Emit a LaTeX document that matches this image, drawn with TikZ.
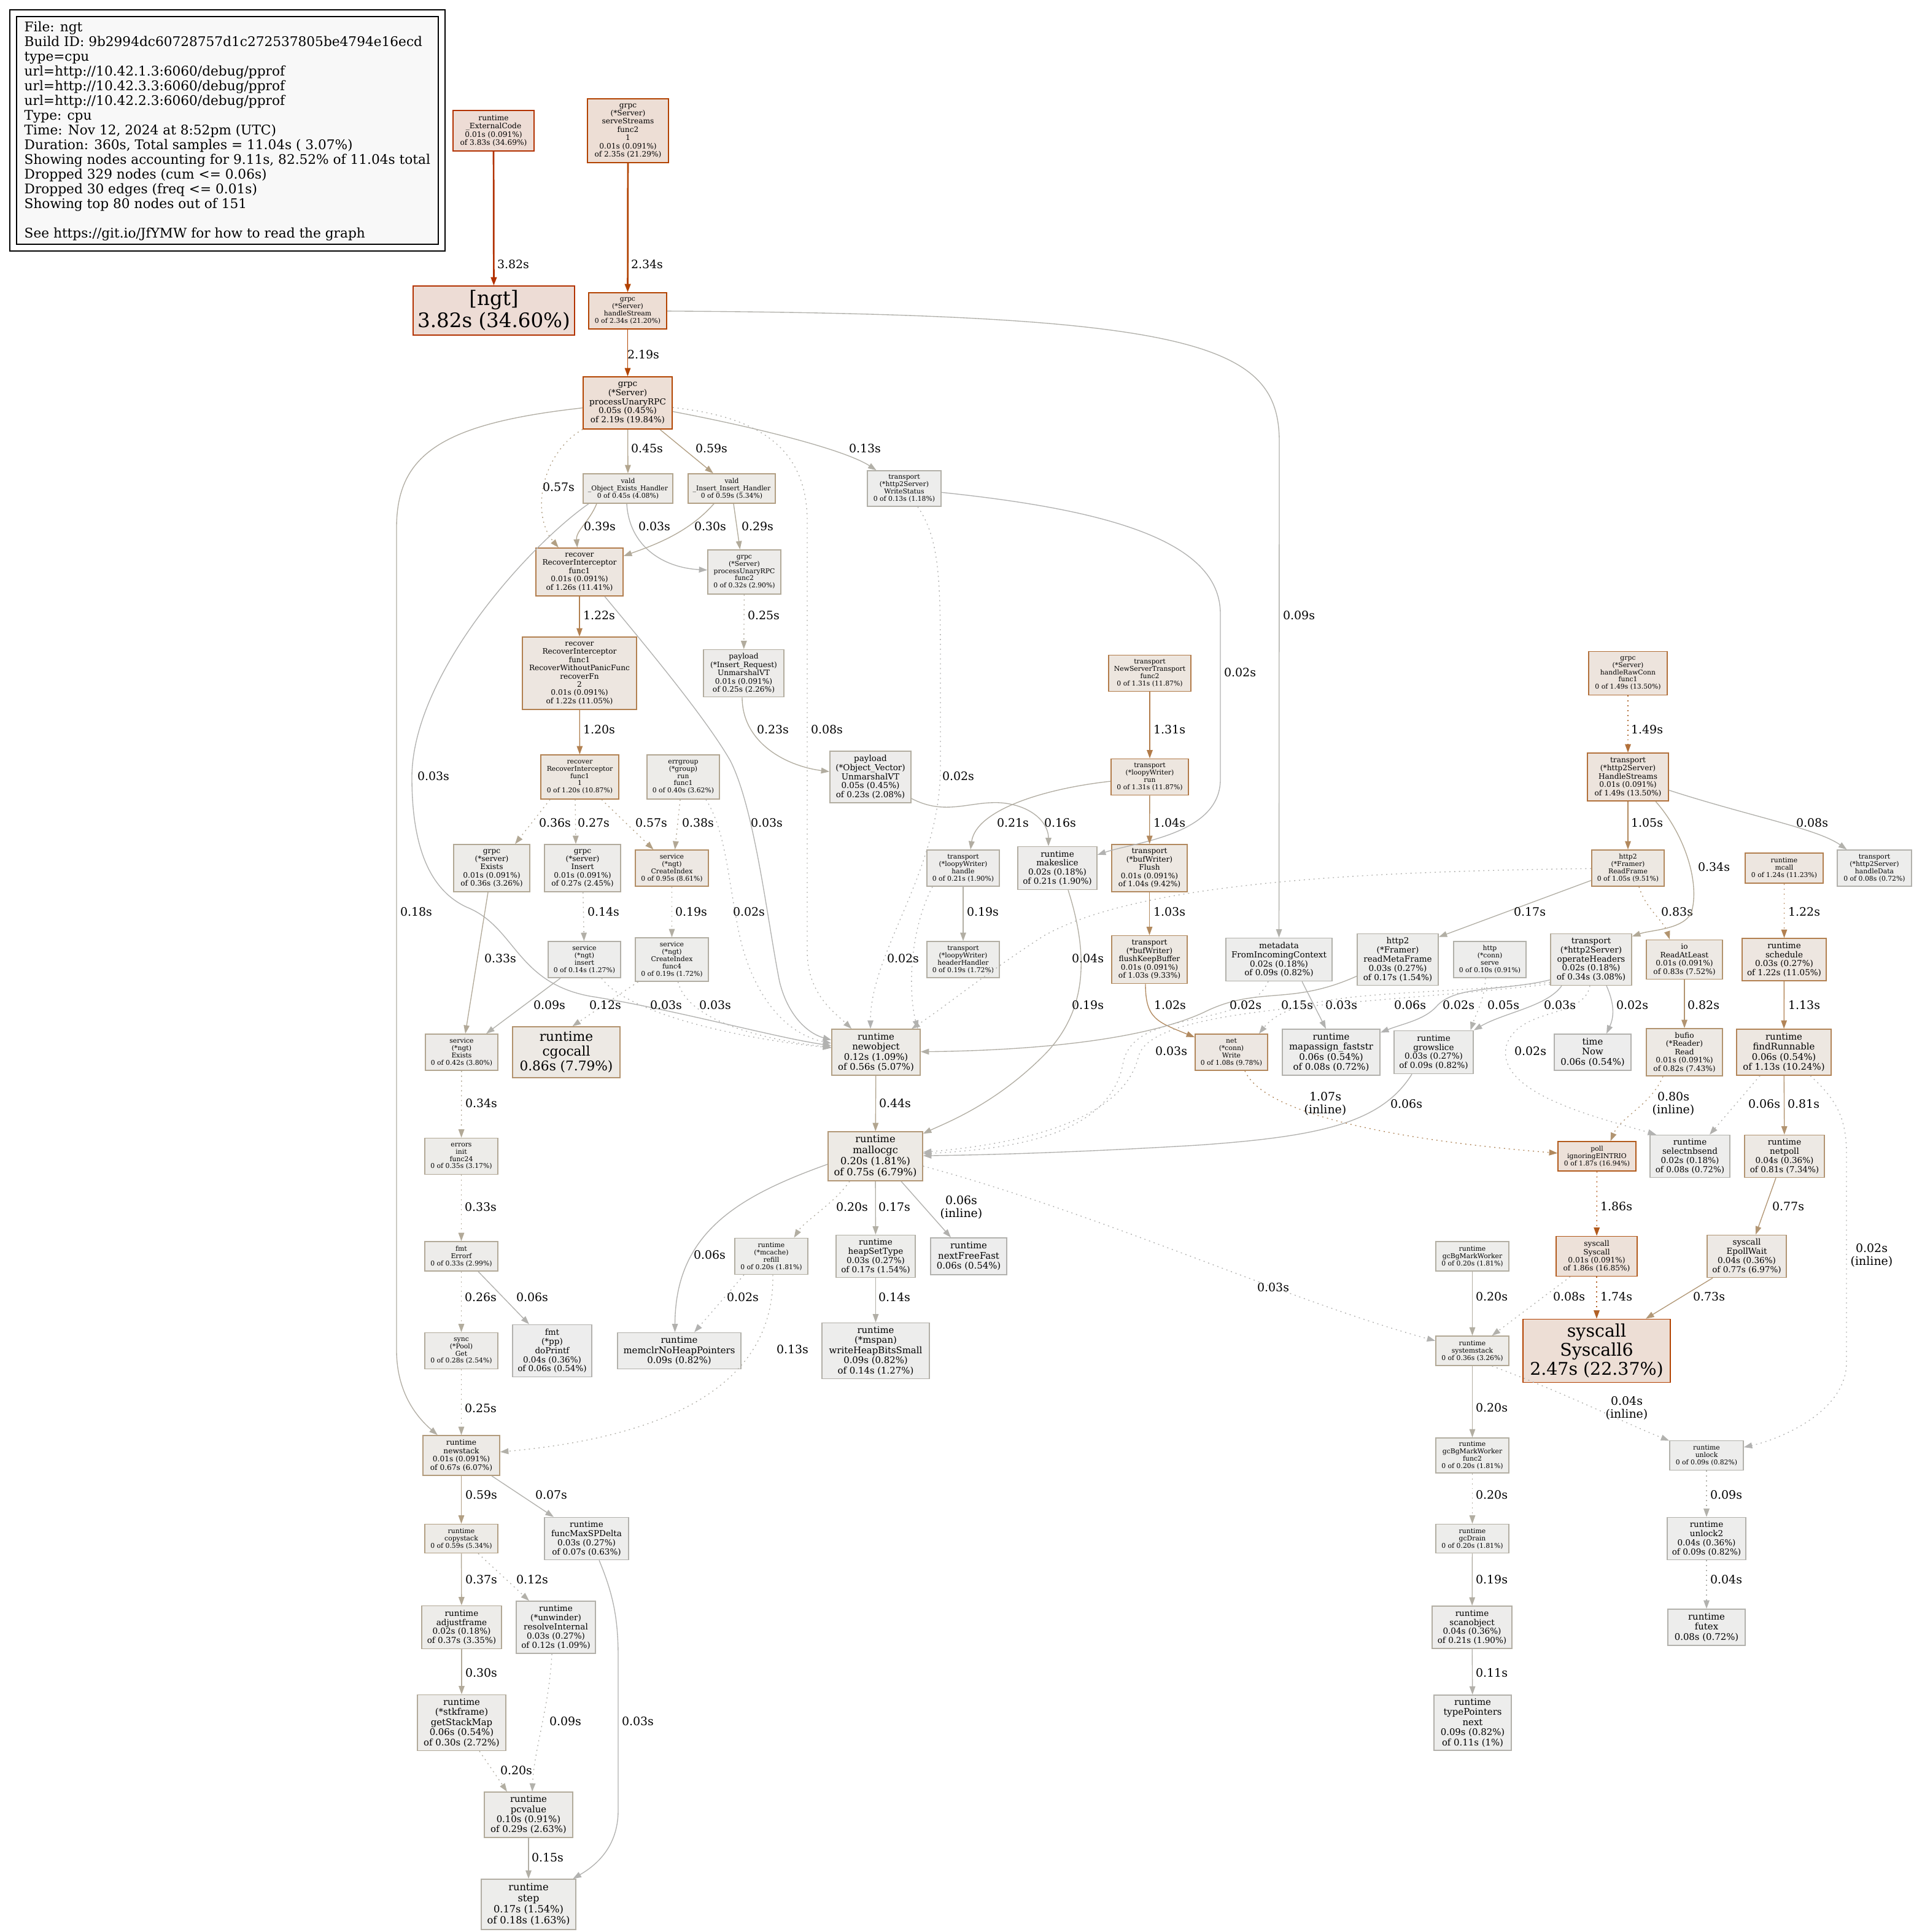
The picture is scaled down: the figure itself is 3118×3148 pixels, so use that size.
\documentclass[tikz,border=0pt]{standalone}
\usepackage{fontspec}
\setmainfont{DejaVu Serif}
\usetikzlibrary{arrows.meta}
\definecolor{legfill}{HTML}{F8F8F8}
\newcounter{gvl}
\newcommand\gvcol[3]{%
  \pgfmathsetmacro\gvx{#2}%
  \pgfmathsetmacro\gvS{ifthenelse(#3==1,0.1,1.0)}%
  \pgfmathsetmacro\gvV{ifthenelse(#3==1,0.93,0.7)}%
  \pgfmathsetmacro\gvSat{ifthenelse(\gvx<0.2,\gvS*\gvx/0.2,\gvS)}%
  \pgfmathsetmacro\gvSc{pow(\gvx,0.3)}%
  \pgfmathsetmacro\gvG{\gvV*(1-\gvSat*\gvSc)}%
  \pgfmathsetmacro\gvB{\gvV*(1-\gvSat)}%
  \definecolor{#1}{rgb}{\gvV,\gvG,\gvB}}
\newcommand\gvnode[8]{%
  \gvcol{gnf}{#7/11.04}{1}\gvcol{gnd}{#7/11.04}{0}%
  \pgfmathsetmacro\gnfs{#6*0.385}\pgfmathsetmacro\gnbs{#6*0.385*1.1}%
  \node[gnode,fill=gnf,draw=gnd,minimum width=#4*0.01cm,minimum height=#5*0.01cm,
        font=\fontsize{\gnfs}{\gnbs}\selectfont] (#1) at (#2,#3) {#8};}
\newcommand\gvedge[3]{%
  \gvcol{gec}{#1/11.04}{0}%
  \pgfmathsetmacro\gew{ifthenelse(#1>=2.208,0.77,0.385)}%
  \draw[gedge,draw=gec,line width=\gew pt,#2] #3;}
\newcommand\gvlab[3]{\stepcounter{gvl}\node[glab] (lab\arabic{gvl}) at (#1,#2) {#3};}
\begin{document}
\begin{tikzpicture}[x=0.01cm,y=-0.01cm,
  gnode/.style={rectangle,inner sep=0pt,align=center,line width=0.45pt},
  gedge/.style={-{Triangle[length=3.85pt,width=2.7pt]}},
  gdot/.style={dash pattern=on 0.55pt off 1.7pt},
  glab/.style={inner sep=0pt,align=center,font=\fontsize{5.39}{5.95}\selectfont}]
\useasboundingbox (0,0) rectangle (3118,3148);
\fill[white] (0,0) rectangle (3118,3148);
% legend
\draw[black,line width=0.6pt] (16,16) rectangle (725,409);
\draw[black,line width=0.45pt,fill=legfill] (27,27) rectangle (714,398);
\node[anchor=north west,align=left,inner sep=0pt,font=\fontsize{6.16}{6.83}\selectfont] (legend) at (39,34)
{File: ngt\\Build ID: 9b2994dc60728757d1c272537805be4794e16ecd\\type=cpu\\url=http://10.42.1.3:6060/debug/pprof\\url=http://10.42.3.3:6060/debug/pprof\\url=http://10.42.2.3:6060/debug/pprof\\Type: cpu\\Time: Nov 12, 2024 at 8:52pm (UTC)\\Duration: 360s, Total samples = 11.04s ( 3.07\%)\\Showing nodes accounting for 9.11s, 82.52\% of 11.04s total\\Dropped 329 nodes (cum <= 0.06s)\\Dropped 30 edges (freq <= 0.01s)\\Showing top 80 nodes out of 151\\\mbox{}\\See https://git.io/JfYMW for how to read the graph};
% nodes
\gvnode{ext}{804}{213}{132}{66}{9}{3.83}{runtime\\\_ExternalCode\\0.01s (0.091\%)\\of 3.83s (34.69\%)}
\gvnode{serve}{1023}{213}{132}{104}{9}{2.35}{grpc\\(*Server)\\serveStreams\\func2\\1\\0.01s (0.091\%)\\of 2.35s (21.29\%)}
\gvnode{ngt}{804.5}{506}{263}{80}{24}{3.82}{[ngt]\\3.82s (34.60\%)}
\gvnode{hs}{1022.5}{506.5}{127}{59}{8}{2.34}{grpc\\(*Server)\\handleStream\\0 of 2.34s (21.20\%)}
\gvnode{pur}{1022.5}{656.5}{145}{85}{10}{2.19}{grpc\\(*Server)\\processUnaryRPC\\0.05s (0.45\%)\\of 2.19s (19.84\%)}
\gvnode{oeh}{1023}{796}{146}{48}{8}{0.45}{vald\\\_Object\_Exists\_Handler\\0 of 0.45s (4.08\%)}
\gvnode{iih}{1192}{796}{142}{48}{8}{0.59}{vald\\\_Insert\_Insert\_Handler\\0 of 0.59s (5.34\%)}
\gvnode{ws}{1473}{796}{120}{58}{8}{0.13}{transport\\(*http2Server)\\WriteStatus\\0 of 0.13s (1.18\%)}
\gvnode{rf1}{944}{932}{142}{78}{9}{1.26}{recover\\RecoverInterceptor\\func1\\0.01s (0.091\%)\\of 1.26s (11.41\%)}
\gvnode{pf2}{1212.5}{932}{119}{72}{8}{0.32}{grpc\\(*Server)\\processUnaryRPC\\func2\\0 of 0.32s (2.90\%)}
\gvnode{rfn}{944}{1097}{186}{118}{9}{1.22}{recover\\RecoverInterceptor\\func1\\RecoverWithoutPanicFunc\\recoverFn\\2\\0.01s (0.091\%)\\of 1.22s (11.05\%)}
\gvnode{pins}{1211.5}{1097}{131}{77}{9}{0.25}{payload\\(*Insert\_Request)\\UnmarshalVT\\0.01s (0.091\%)\\of 0.25s (2.26\%)}
\gvnode{nst}{1873}{1097}{134}{59}{8}{1.31}{transport\\NewServerTransport\\func2\\0 of 1.31s (11.87\%)}
\gvnode{hrc}{2652}{1097}{128}{71}{8}{1.49}{grpc\\(*Server)\\handleRawConn\\func1\\0 of 1.49s (13.50\%)}
\gvnode{pvec}{1418}{1266}{132}{84}{10}{0.23}{payload\\(*Object\_Vector)\\UnmarshalVT\\0.05s (0.45\%)\\of 0.23s (2.08\%)}
\gvnode{rf11}{944.5}{1266}{127}{72}{8}{1.20}{recover\\RecoverInterceptor\\func1\\1\\0 of 1.20s (10.87\%)}
\gvnode{errg}{1113}{1266}{118}{72}{8}{0.40}{errgroup\\(*group)\\run\\func1\\0 of 0.40s (3.62\%)}
\gvnode{lrun}{1873}{1266}{126}{59}{8}{1.31}{transport\\(*loopyWriter)\\run\\0 of 1.31s (11.87\%)}
\gvnode{hst}{2652}{1266}{132}{78}{9}{1.49}{transport\\(*http2Server)\\HandleStreams\\0.01s (0.091\%)\\of 1.49s (13.50\%)}
\gvnode{gex}{801}{1414.5}{124}{77}{9}{0.36}{grpc\\(*server)\\Exists\\0.01s (0.091\%)\\of 0.36s (3.26\%)}
\gvnode{gin}{949}{1414.5}{124}{77}{9}{0.27}{grpc\\(*server)\\Insert\\0.01s (0.091\%)\\of 0.27s (2.45\%)}
\gvnode{sci}{1094.5}{1414.5}{119}{59}{8}{0.95}{service\\(*ngt)\\CreateIndex\\0 of 0.95s (8.61\%)}
\gvnode{lhan}{1569}{1414.5}{118}{59}{8}{0.21}{transport\\(*loopyWriter)\\handle\\0 of 0.21s (1.90\%)}
\gvnode{mks}{1722.5}{1414.5}{129}{70}{10}{0.21}{runtime\\makeslice\\0.02s (0.18\%)\\of 0.21s (1.90\%)}
\gvnode{fl}{1872.5}{1414.5}{123}{77}{9}{1.04}{transport\\(*bufWriter)\\Flush\\0.01s (0.091\%)\\of 1.04s (9.42\%)}
\gvnode{rfr}{2652}{1414.5}{118}{59}{8}{1.05}{http2\\(*Framer)\\ReadFrame\\0 of 1.05s (9.51\%)}
\gvnode{mcall}{2906.5}{1414.5}{127}{49}{8}{1.24}{runtime\\mcall\\0 of 1.24s (11.23\%)}
\gvnode{hdata}{3053.5}{1414.5}{121}{59}{8}{0.08}{transport\\(*http2Server)\\handleData\\0 of 0.08s (0.72\%)}
\gvnode{sin}{952}{1563.5}{118}{59}{8}{0.14}{service\\(*ngt)\\insert\\0 of 0.14s (1.27\%)}
\gvnode{scf4}{1094.5}{1563.5}{119}{71}{8}{0.19}{service\\(*ngt)\\CreateIndex\\func4\\0 of 0.19s (1.72\%)}
\gvnode{hh}{1569}{1563.5}{118}{59}{8}{0.19}{transport\\(*loopyWriter)\\headerHandler\\0 of 0.19s (1.72\%)}
\gvnode{fkb}{1872.5}{1563.5}{123}{78}{9}{1.03}{transport\\(*bufWriter)\\flushKeepBuffer\\0.01s (0.091\%)\\of 1.03s (9.33\%)}
\gvnode{md}{2083.5}{1563.5}{173}{70}{10}{0.09}{metadata\\FromIncomingContext\\0.02s (0.18\%)\\of 0.09s (0.82\%)}
\gvnode{rmf}{2277}{1563.5}{132}{84}{10}{0.17}{http2\\(*Framer)\\readMetaFrame\\0.03s (0.27\%)\\of 0.17s (1.54\%)}
\gvnode{hcs}{2427}{1563.5}{118}{59}{8}{0.10}{http\\(*conn)\\serve\\0 of 0.10s (0.91\%)}
\gvnode{oph}{2592}{1563.5}{132}{84}{10}{0.34}{transport\\(*http2Server)\\operateHeaders\\0.02s (0.18\%)\\of 0.34s (3.08\%)}
\gvnode{ral}{2744}{1563.5}{124}{64}{9}{0.83}{io\\ReadAtLeast\\0.01s (0.091\%)\\of 0.83s (7.52\%)}
\gvnode{sch}{2906.5}{1563.5}{137}{69}{10}{1.22}{runtime\\schedule\\0.03s (0.27\%)\\of 1.22s (11.05\%)}
\gvnode{sex}{752}{1714.5}{118}{59}{8}{0.42}{service\\(*ngt)\\Exists\\0 of 0.42s (3.80\%)}
\gvnode{cgo}{922.5}{1714.5}{175}{83}{16}{0.86}{runtime\\cgocall\\0.86s (7.79\%)}
\gvnode{nobj}{1427}{1714.5}{144}{75}{11}{0.56}{runtime\\newobject\\0.12s (1.09\%)\\of 0.56s (5.07\%)}
\gvnode{nw}{2006}{1714.5}{118}{59}{8}{1.08}{net\\(*conn)\\Write\\0 of 1.08s (9.78\%)}
\gvnode{mpa}{2168.5}{1714.5}{159}{75}{11}{0.08}{runtime\\mapassign\_faststr\\0.06s (0.54\%)\\of 0.08s (0.72\%)}
\gvnode{gs}{2335.5}{1714.5}{129}{70}{10}{0.09}{runtime\\growslice\\0.03s (0.27\%)\\of 0.09s (0.82\%)}
\gvnode{tnow}{2594.5}{1714.5}{125}{59}{11}{0.06}{time\\Now\\0.06s (0.54\%)}
\gvnode{brd}{2744}{1714.5}{124}{77}{9}{0.82}{bufio\\(*Reader)\\Read\\0.01s (0.091\%)\\of 0.82s (7.43\%)}
\gvnode{frn}{2906}{1714.5}{154}{75}{11}{1.13}{runtime\\findRunnable\\0.06s (0.54\%)\\of 1.13s (10.24\%)}
\gvnode{ein}{751.5}{1884}{119}{59}{8}{0.35}{errors\\init\\func24\\0 of 0.35s (3.17\%)}
\gvnode{mgc}{1426}{1884}{154}{80}{12}{0.75}{runtime\\mallocgc\\0.20s (1.81\%)\\of 0.75s (6.79\%)}
\gvnode{poll}{2601.5}{1884}{127}{48}{8}{1.87}{poll\\ignoringEINTRIO\\0 of 1.87s (16.94\%)}
\gvnode{sel}{2753}{1884}{130}{69}{10}{0.08}{runtime\\selectnbsend\\0.02s (0.18\%)\\of 0.08s (0.72\%)}
\gvnode{npoll}{2907}{1884}{130}{69}{10}{0.81}{runtime\\netpoll\\0.04s (0.36\%)\\of 0.81s (7.34\%)}
\gvnode{ferr}{751.5}{2047}{119}{48}{8}{0.33}{fmt\\Errorf\\0 of 0.33s (2.99\%)}
\gvnode{mcr}{1256.5}{2047}{119}{59}{8}{0.20}{runtime\\(*mcache)\\refill\\0 of 0.20s (1.81\%)}
\gvnode{hst2}{1426.5}{2047}{129}{69}{10}{0.17}{runtime\\heapSetType\\0.03s (0.27\%)\\of 0.17s (1.54\%)}
\gvnode{nff}{1578}{2047}{124}{60}{11}{0.06}{runtime\\nextFreeFast\\0.06s (0.54\%)}
\gvnode{gbw}{2398.5}{2047}{119}{48}{8}{0.20}{runtime\\gcBgMarkWorker\\0 of 0.20s (1.81\%)}
\gvnode{sysc}{2601}{2047}{132}{65}{9}{1.86}{syscall\\Syscall\\0.01s (0.091\%)\\of 1.86s (16.85\%)}
\gvnode{epw}{2845.5}{2047}{129}{69}{10}{0.77}{syscall\\EpollWait\\0.04s (0.36\%)\\of 0.77s (6.97\%)}
\gvnode{spg}{751.5}{2201}{119}{59}{8}{0.28}{sync\\(*Pool)\\Get\\0 of 0.28s (2.54\%)}
\gvnode{dpf}{899.5}{2201}{129}{85}{10}{0.06}{fmt\\(*pp)\\doPrintf\\0.04s (0.36\%)\\of 0.06s (0.54\%)}
\gvnode{mclr}{1106.5}{2201}{201}{59}{11}{0.09}{runtime\\memclrNoHeapPointers\\0.09s (0.82\%)}
\gvnode{whb}{1426.5}{2201}{175}{91}{11}{0.14}{runtime\\(*mspan)\\writeHeapBitsSmall\\0.09s (0.82\%)\\of 0.14s (1.27\%)}
\gvnode{sst}{2398.5}{2201}{119}{48}{8}{0.36}{runtime\\systemstack\\0 of 0.36s (3.26\%)}
\gvnode{s6}{2601}{2201}{240}{103}{21}{2.47}{syscall\\Syscall6\\2.47s (22.37\%)}
\gvnode{nstk}{751.5}{2371.5}{125}{65}{9}{0.67}{runtime\\newstack\\0.01s (0.091\%)\\of 0.67s (6.07\%)}
\gvnode{gbw2}{2398.5}{2371.5}{119}{57}{8}{0.20}{runtime\\gcBgMarkWorker\\func2\\0 of 0.20s (1.81\%)}
\gvnode{unl}{2780}{2371.5}{120}{48}{8}{0.09}{runtime\\unlock\\0 of 0.09s (0.82\%)}
\gvnode{cstk}{751.5}{2507}{119}{47}{8}{0.59}{runtime\\copystack\\0 of 0.59s (5.34\%)}
\gvnode{fmsp}{955.5}{2507}{137}{69}{10}{0.07}{runtime\\funcMaxSPDelta\\0.03s (0.27\%)\\of 0.07s (0.63\%)}
\gvnode{gcd}{2398.5}{2507}{119}{47}{8}{0.20}{runtime\\gcDrain\\0 of 0.20s (1.81\%)}
\gvnode{unl2}{2780}{2507}{128}{69}{10}{0.09}{runtime\\unlock2\\0.04s (0.36\%)\\of 0.09s (0.82\%)}
\gvnode{adj}{752}{2651.5}{130}{70}{10}{0.37}{runtime\\adjustframe\\0.02s (0.18\%)\\of 0.37s (3.35\%)}
\gvnode{rsi}{905.5}{2651.5}{129}{85}{10}{0.12}{runtime\\(*unwinder)\\resolveInternal\\0.03s (0.27\%)\\of 0.12s (1.09\%)}
\gvnode{scn}{2398}{2651.5}{130}{69}{10}{0.21}{runtime\\scanobject\\0.04s (0.36\%)\\of 0.21s (1.90\%)}
\gvnode{ftx}{2780}{2651.5}{126}{59}{11}{0.08}{runtime\\futex\\0.08s (0.72\%)}
\gvnode{gsm}{752}{2807}{144}{91}{11}{0.30}{runtime\\(*stkframe)\\getStackMap\\0.06s (0.54\%)\\of 0.30s (2.72\%)}
\gvnode{tpn}{2399}{2807}{126}{90}{11}{0.11}{runtime\\typePointers\\next\\0.09s (0.82\%)\\of 0.11s (1\%)}
\gvnode{pcv}{861}{2957}{144}{74}{11}{0.29}{runtime\\pcvalue\\0.10s (0.91\%)\\of 0.29s (2.63\%)}
\gvnode{stp}{861}{3103}{154}{82}{12}{0.18}{runtime\\step\\0.17s (1.54\%)\\of 0.18s (1.63\%)}
% edges
\gvedge{3.82}{}{(ext) -- (ngt)}\gvlab{836}{431}{3.82s}
\gvedge{2.34}{}{(serve) -- (hs)}\gvlab{1054}{431}{2.34s}
\gvedge{2.19}{}{(hs) -- (pur)}\gvlab{1048}{578}{2.19s}
\gvedge{0.09}{}{(hs) .. controls (1950,512) and (2084,560) .. (2084,720) -- (md)}\gvlab{2116}{1003}{0.09s}
\gvedge{0.45}{}{(pur) -- (oeh)}\gvlab{1054}{731}{0.45s}
\gvedge{0.59}{}{(pur) -- (iih)}\gvlab{1159}{731}{0.59s}
\gvedge{0.13}{}{(pur) .. controls (1250,700) and (1380,735) .. (ws)}\gvlab{1409}{731}{0.13s}
\gvedge{0.57}{gdot}{(pur) .. controls (880,740) and (865,840) .. (rf1)}\gvlab{910}{794}{0.57s}
\gvedge{0.18}{}{(pur) .. controls (720,690) and (646,740) .. (646,860) -- (646,2200) .. controls (646,2270) and (680,2310) .. (nstk)}\gvlab{678}{1486}{0.18s}
\gvedge{0.08}{gdot}{(pur) .. controls (1250,680) and (1315,740) .. (1315,850) -- (1315,1550) .. controls (1315,1620) and (1360,1650) .. (nobj)}\gvlab{1347}{1189}{0.08s}
\gvedge{0.39}{}{([xshift=-0.51cm]oeh.south) .. controls (960,850) and (938,865) .. (rf1)}\gvlab{977}{858}{0.39s}
\gvedge{0.03}{}{([xshift=-0.02cm]oeh.south) .. controls (1025,890) and (1080,925) .. (pf2)}\gvlab{1066}{858}{0.03s}
\gvedge{0.03}{}{([xshift=-0.64cm]oeh.south) .. controls (860,890) and (671,1100) .. (671,1267) .. controls (671,1380) and (700,1450) .. (760,1478) .. controls (840,1510) and (840,1600) .. (960,1623) .. controls (1100,1645) and (1260,1690) .. (nobj)}\gvlab{706}{1265}{0.03s}
\gvedge{0.30}{}{([xshift=-0.29cm]iih.south) .. controls (1120,870) and (1060,890) .. (rf1)}\gvlab{1157}{858}{0.30s}
\gvedge{0.29}{}{([xshift=0.03cm]iih.south) -- ([xshift=-0.07cm]pf2.north)}\gvlab{1234}{858}{0.29s}
\gvedge{0.02}{gdot}{([xshift=0.22cm]ws.south) .. controls (1532,880) and (1532,950) .. (1532,1100) -- (1532,1250) .. controls (1532,1420) and (1418,1550) .. ([xshift=-0.09cm]nobj.north)}\gvlab{1561}{1265}{0.02s}
\gvedge{0.02}{}{(ws) .. controls (1800,830) and (1988,880) .. (1988,1000) -- (1988,1270) .. controls (1988,1360) and (1850,1372) .. (mks)}\gvlab{2020}{1096}{0.02s}
\gvedge{1.22}{}{(rf1) -- (rfn)}\gvlab{976}{1003}{1.22s}
\gvedge{0.25}{gdot}{(pf2) -- (pins)}\gvlab{1244}{1003}{0.25s}
\gvedge{1.20}{}{(rfn) -- (rf11)}\gvlab{976}{1189}{1.20s}
\gvedge{0.23}{}{([xshift=-0.025cm]pins.south) .. controls (1209,1210) and (1280,1248) .. (pvec)}\gvlab{1259}{1189}{0.23s}
\gvedge{0.16}{}{(pvec) .. controls (1540,1330) and (1580,1305) .. (1630,1308) .. controls (1680,1312) and (1708,1340) .. ([xshift=-0.145cm]mks.north)}\gvlab{1727}{1341}{0.16s}
\gvedge{0.21}{}{(lrun) .. controls (1700,1285) and (1590,1320) .. ([xshift=0.12cm]lhan.north)}\gvlab{1650}{1341}{0.21s}
\gvedge{1.04}{}{(lrun) -- (fl)}\gvlab{1905}{1341}{1.04s}
\gvedge{1.31}{}{(nst) -- (lrun)}\gvlab{1905}{1189}{1.31s}
\gvedge{0.36}{gdot}{([xshift=-0.485cm]rf11.south) -- ([xshift=0.38cm]gex.north)}\gvlab{904}{1341}{0.36s}
\gvedge{0.27}{gdot}{([xshift=-0.075cm]rf11.south) -- ([xshift=-0.11cm]gin.north)}\gvlab{967}{1341}{0.27s}
\gvedge{0.57}{gdot}{([xshift=0.355cm]rf11.south) -- ([xshift=-0.30cm]sci.north)}\gvlab{1061}{1341}{0.57s}
\gvedge{0.38}{gdot}{([xshift=-0.05cm]errg.south) -- ([xshift=0.05cm]sci.north)}\gvlab{1137}{1341}{0.38s}
\gvedge{0.02}{gdot}{([xshift=0.37cm]errg.south) .. controls (1180,1350) and (1185,1420) .. (1200,1500) .. controls (1220,1620) and (1280,1685) .. (nobj)}\gvlab{1220}{1486}{0.02s}
\gvedge{0.03}{}{([xshift=0.41cm]rf1.south) .. controls (1050,1050) and (1150,1170) .. (1190,1240) .. controls (1230,1320) and (1250,1500) .. (1270,1600) .. controls (1285,1660) and (1320,1685) .. (nobj)}\gvlab{1249}{1341}{0.03s}
\gvedge{0.33}{}{([xshift=-0.06cm]gex.south) -- ([xshift=0.06cm]sex.north)}\gvlab{815}{1562}{0.33s}
\gvedge{0.14}{gdot}{(gin) -- (sin)}\gvlab{983}{1486}{0.14s}
\gvedge{0.19}{gdot}{(sci) -- (scf4)}\gvlab{1126}{1486}{0.19s}
\gvedge{0.09}{}{([xshift=-0.39cm]sin.south) -- ([xshift=0.40cm]sex.north)}\gvlab{895}{1638}{0.09s}
\gvedge{0.03}{gdot}{([xshift=0.28cm]sin.south) .. controls (1020,1650) and (1200,1692) .. (nobj)}\gvlab{1085}{1638}{0.03s}
\gvedge{0.12}{gdot}{([xshift=-0.55cm]scf4.south) -- ([xshift=0.1cm]cgo.north)}\gvlab{986}{1638}{0.12s}
\gvedge{0.03}{gdot}{([xshift=0.1cm]scf4.south) .. controls (1120,1665) and (1250,1695) .. (nobj)}\gvlab{1165}{1638}{0.03s}
\gvedge{0.34}{gdot}{(sex) -- (ein)}\gvlab{784}{1798}{0.34s}
\gvedge{0.33}{gdot}{(ein) -- (ferr)}\gvlab{783}{1967}{0.33s}
\gvedge{0.26}{gdot}{(ferr) -- (spg)}\gvlab{783}{2114}{0.26s}
\gvedge{0.06}{}{([xshift=0.275cm]ferr.south) -- ([xshift=-0.375cm]dpf.north)}\gvlab{867}{2114}{0.06s}
\gvedge{0.25}{gdot}{(spg) -- (nstk)}\gvlab{783}{2295}{0.25s}
\gvedge{0.19}{}{(lhan) -- (hh)}\gvlab{1601}{1486}{0.19s}
\gvedge{0.02}{gdot}{([xshift=-0.5cm]lhan.south) .. controls (1480,1520) and (1480,1620) .. ([xshift=0.68cm]nobj.north)}\gvlab{1471}{1562}{0.02s}
\gvedge{0.19}{}{([xshift=0.175cm]mks.south) .. controls (1775,1560) and (1770,1650) .. (1700,1720) .. controls (1620,1800) and (1540,1830) .. (mgc)}\gvlab{1772}{1638}{0.19s}
\gvedge{1.03}{}{(fl) -- (fkb)}\gvlab{1905}{1486}{1.03s}
\gvedge{1.02}{}{([xshift=-0.065cm]fkb.south) .. controls (1866,1660) and (1885,1665) .. (nw)}\gvlab{1906}{1638}{1.02s}
\gvedge{0.04}{gdot}{(rfr) .. controls (2200,1420) and (1850,1440) .. (1700,1525) .. controls (1600,1590) and (1540,1640) .. (nobj)}\gvlab{1772}{1562}{0.04s}
\gvedge{0.17}{}{([yshift=-0.2cm]rfr.west) -- ([yshift=-0.06cm]rmf.north east)}\gvlab{2492}{1486}{0.17s}
\gvedge{0.83}{gdot}{([xshift=0.18cm]rfr.south) .. controls (2680,1480) and (2710,1500) .. ([xshift=-0.24cm]ral.north)}\gvlab{2732}{1486}{0.83s}
\gvedge{1.05}{}{(hst) -- (rfr)}\gvlab{2683}{1341}{1.05s}
\gvedge{0.34}{}{([xshift=0.45cm]hst.south) .. controls (2745,1360) and (2770,1440) .. (2755,1488) .. controls (2740,1515) and (2690,1515) .. ([yshift=-0.05cm]oph.north east)}\gvlab{2792}{1413}{0.34s}
\gvedge{0.08}{}{(hst) .. controls (2850,1330) and (2960,1350) .. ([xshift=-0.45cm]hdata.north)}\gvlab{2952}{1341}{0.08s}
\gvedge{1.49}{gdot}{(hrc) -- (hst)}\gvlab{2683}{1189}{1.49s}
\gvedge{1.22}{gdot}{(mcall) -- (sch)}\gvlab{2939}{1486}{1.22s}
\gvedge{1.13}{}{(sch) -- (frn)}\gvlab{2939}{1638}{1.13s}
\gvedge{0.15}{}{([yshift=-0.27cm]rmf.west) .. controls (2100,1640) and (2050,1605) .. (1960,1650) .. controls (1850,1700) and (1650,1712) .. (nobj)}\gvlab{2113}{1638}{0.15s}
\gvedge{0.03}{}{([xshift=0.375cm]md.south) -- ([xshift=-0.085cm]mpa.north)}\gvlab{2185}{1638}{0.03s}
\gvedge{0.02}{gdot}{([xshift=-0.175cm]md.south) .. controls (2030,1680) and (1850,1640) .. (1830,1730) .. controls (1810,1850) and (1650,1872) .. (mgc)}\gvlab{2029}{1638}{0.02s}
\gvedge{0.05}{gdot}{([xshift=-0.07cm]hcs.south) .. controls (2418,1630) and (2405,1650) .. ([xshift=0.6cm]gs.north)}\gvlab{2449}{1638}{0.05s}
\gvedge{0.02}{}{([yshift=-0.33cm]oph.west) .. controls (2450,1615) and (2370,1605) .. (2340,1640) .. controls (2320,1662) and (2285,1668) .. (mpa)}\gvlab{2376}{1638}{0.02s}
\gvedge{0.03}{}{([xshift=-0.48cm]oph.south) .. controls (2520,1640) and (2450,1650) .. (gs.north east)}\gvlab{2541}{1638}{0.03s}
\gvedge{0.02}{}{([xshift=0.25cm]oph.south) .. controls (2632,1640) and (2628,1660) .. ([xshift=0.225cm]tnow.north)}\gvlab{2659}{1638}{0.02s}
\gvedge{0.02}{gdot}{([xshift=-0.02cm]oph.south) .. controls (2580,1660) and (2480,1640) .. (2455,1700) .. controls (2430,1780) and (2600,1820) .. ([xshift=-0.55cm]sel.north)}\gvlab{2493}{1713}{0.02s}
\gvedge{0.06}{gdot}{([yshift=-0.37cm]oph.west) .. controls (2300,1625) and (2110,1610) .. ([xshift=0.45cm]nw.north)}\gvlab{2297}{1638}{0.06s}
\gvedge{0.03}{gdot}{([yshift=-0.4cm]oph.west) .. controls (2200,1640) and (1880,1640) .. (1855,1720) .. controls (1830,1830) and (1650,1865) .. (mgc)}\gvlab{1908}{1713}{0.03s}
\gvedge{0.44}{}{(nobj) -- (mgc)}\gvlab{1458}{1798}{0.44s}
\gvedge{0.06}{}{([xshift=-0.355cm]gs.south) .. controls (2250,1830) and (2150,1852) .. (1950,1866) .. controls (1750,1878) and (1600,1882) .. (mgc)}\gvlab{2291}{1799}{0.06s}
\gvedge{1.07}{gdot}{([xshift=0.22cm]nw.south) .. controls (2060,1820) and (2300,1860) .. (poll)}\gvlab{2159}{1798}{1.07s\\(inline)}
\gvedge{0.80}{gdot}{([xshift=-0.35cm]brd.south) .. controls (2690,1800) and (2640,1820) .. ([xshift=0.22cm]poll.north)}\gvlab{2726}{1798}{0.80s\\(inline)}
\gvedge{0.82}{}{(ral) -- (brd)}\gvlab{2775}{1638}{0.82s}
\gvedge{0.06}{gdot}{([xshift=-0.39cm]frn.south) -- ([xshift=0.32cm]sel.north)}\gvlab{2874}{1799}{0.06s}
\gvedge{0.81}{}{(frn) -- (npoll)}\gvlab{2938}{1799}{0.81s}
\gvedge{0.02}{gdot}{([xshift=0.43cm]frn.south) .. controls (2990,1790) and (3008,1820) .. (3008,1880) -- (3008,2220) .. controls (3008,2300) and (2900,2345) .. (unl)}\gvlab{3049}{2045}{0.02s\\(inline)}
\gvedge{1.86}{gdot}{(poll) -- (sysc)}\gvlab{2633}{1966}{1.86s}
\gvedge{0.77}{}{([xshift=-0.14cm]npoll.south) -- ([xshift=0.145cm]epw.north)}\gvlab{2913}{1966}{0.77s}
\gvedge{1.74}{gdot}{(sysc) -- (s6)}\gvlab{2633}{2113}{1.74s}
\gvedge{0.08}{gdot}{([xshift=-0.43cm]sysc.south) -- ([xshift=0.32cm]sst.north)}\gvlab{2556}{2113}{0.08s}
\gvedge{0.73}{}{([xshift=-0.555cm]epw.south) -- ([xshift=0.8cm]s6.north)}\gvlab{2784}{2113}{0.73s}
\gvedge{0.20}{}{(gbw) -- (sst)}\gvlab{2430}{2113}{0.20s}
\gvedge{0.03}{gdot}{([yshift=-0.16cm]mgc.east) .. controls (1800,1980) and (2100,2120) .. (sst)}\gvlab{2074}{2098}{0.03s}
\gvedge{0.20}{}{(sst) -- (gbw2)}\gvlab{2430}{2294}{0.20s}
\gvedge{0.04}{gdot}{([xshift=0.32cm]sst.south) .. controls (2550,2270) and (2650,2320) .. (unl)}\gvlab{2650}{2294}{0.04s\\(inline)}
\gvedge{0.20}{gdot}{(gbw2) -- (gcd)}\gvlab{2430}{2436}{0.20s}
\gvedge{0.09}{gdot}{(unl) -- (unl2)}\gvlab{2812}{2436}{0.09s}
\gvedge{0.19}{}{(gcd) -- (scn)}\gvlab{2430}{2574}{0.19s}
\gvedge{0.04}{gdot}{(unl2) -- (ftx)}\gvlab{2812}{2574}{0.04s}
\gvedge{0.11}{}{(scn) -- (tpn)}\gvlab{2430}{2726}{0.11s}
\gvedge{0.20}{gdot}{([xshift=-0.42cm]mgc.south) .. controls (1360,1960) and (1310,1990) .. ([xshift=0.37cm]mcr.north)}\gvlab{1388}{1967}{0.20s}
\gvedge{0.17}{}{(mgc) -- (hst2)}\gvlab{1457}{1967}{0.17s}
\gvedge{0.06}{}{([xshift=0.42cm]mgc.south) -- ([xshift=-0.29cm]nff.north)}\gvlab{1566}{1967}{0.06s\\(inline)}
\gvedge{0.06}{}{([yshift=-0.13cm]mgc.west) .. controls (1200,1950) and (1100,2010) .. ([xshift=-0.07cm]mclr.north)}\gvlab{1156}{2045}{0.06s}
\gvedge{0.02}{gdot}{([xshift=-0.445cm]mcr.south) -- ([xshift=0.245cm]mclr.north)}\gvlab{1210}{2114}{0.02s}
\gvedge{0.13}{gdot}{([xshift=0.025cm]mcr.south) .. controls (1262,2250) and (1100,2340) .. (nstk)}\gvlab{1291}{2199}{0.13s}
\gvedge{0.14}{}{(hst2) -- (whb)}\gvlab{1457}{2114}{0.14s}
\gvedge{0.59}{}{(nstk) -- (cstk)}\gvlab{784}{2436}{0.59s}
\gvedge{0.07}{}{([xshift=0.495cm]nstk.south) -- ([xshift=-0.535cm]fmsp.north)}\gvlab{898}{2436}{0.07s}
\gvedge{0.37}{}{(cstk) -- (adj)}\gvlab{784}{2574}{0.37s}
\gvedge{0.12}{gdot}{([xshift=0.275cm]cstk.south) -- ([xshift=-0.435cm]rsi.north)}\gvlab{867}{2574}{0.12s}
\gvedge{0.30}{}{(adj) -- (gsm)}\gvlab{784}{2726}{0.30s}
\gvedge{0.20}{gdot}{([xshift=0.29cm]gsm.south) -- ([xshift=-0.35cm]pcv.north)}\gvlab{841}{2885}{0.20s}
\gvedge{0.09}{gdot}{([xshift=-0.065cm]rsi.south) .. controls (895,2780) and (870,2850) .. ([xshift=0.06cm]pcv.north)}\gvlab{921}{2805}{0.09s}
\gvedge{0.03}{}{([xshift=0.205cm]fmsp.south) .. controls (1000,2600) and (1007,2640) .. (1007,2700) -- (1007,2950) .. controls (1007,3010) and (970,3040) .. (stp)}\gvlab{1039}{2805}{0.03s}
\gvedge{0.15}{}{(pcv) -- (stp)}\gvlab{892}{3027}{0.15s}
\end{tikzpicture}
\end{document}
